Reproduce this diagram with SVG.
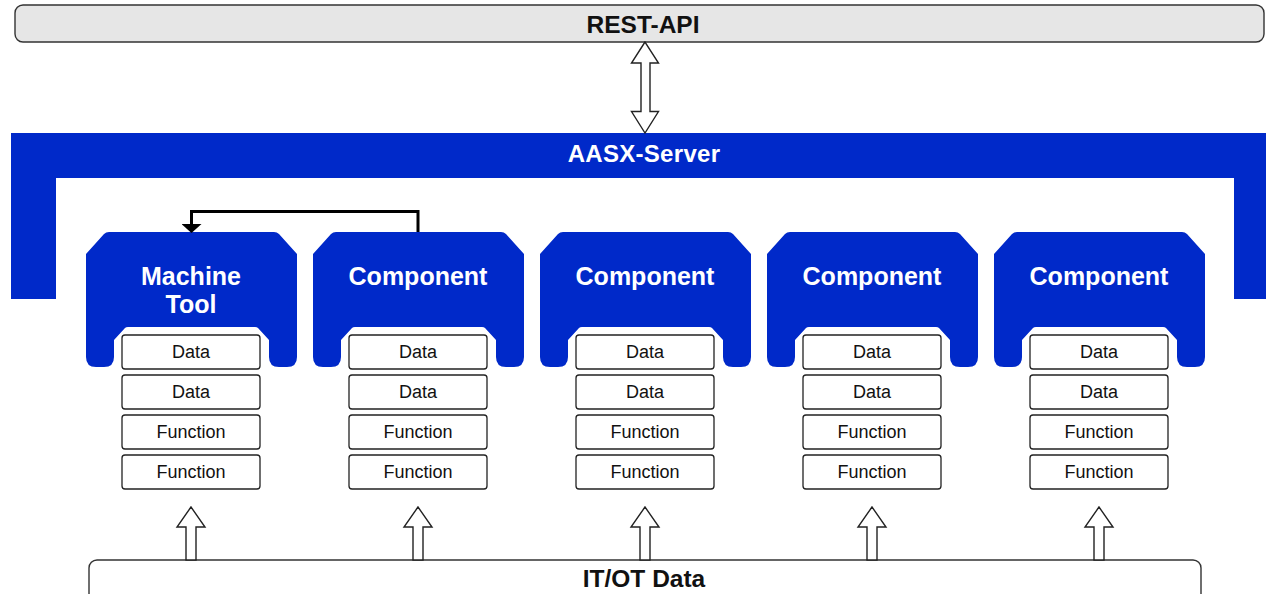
<svg xmlns="http://www.w3.org/2000/svg" xmlns:xlink="http://www.w3.org/1999/xlink" width="1266" height="594" viewBox="0 0 1266 594">
<style>
.bar{fill:#e6e6e6;stroke:#333;stroke-width:1.4}
.bar2{fill:#fff;stroke:#333;stroke-width:1.4}
.blue{fill:#0029c9}
.big{font-family:"Liberation Sans",Arial,sans-serif;font-weight:bold;font-size:24.5px;text-anchor:middle;fill:#111}
.srv{font-family:"Liberation Sans",Arial,sans-serif;font-weight:bold;font-size:24px;letter-spacing:0.3px;text-anchor:middle;fill:#fff}
.lbl{font-family:"Liberation Sans",Arial,sans-serif;font-weight:bold;font-size:25px;text-anchor:middle;fill:#fff}
.box{fill:#fff;stroke:#222;stroke-width:1.3}
.bt{font-family:"Liberation Sans",Arial,sans-serif;font-size:18px;text-anchor:middle;fill:#111}
.harrow{fill:#fff;stroke:#222;stroke-width:1.4;stroke-linejoin:miter}
.fb{fill:none;stroke:#000;stroke-width:3}
</style>
<defs>
<path id="nodeShape" d="M0,22 L18,2 Q20,0 23,0 L188,0 Q191,0 193,2 L211,22 L211,125 Q211,135 201,135 L193,135 Q183,135 183,125 L183,108 L172,96 Q171,95 169,95 L42,95 Q40,95 39,96 L28,108 L28,125 Q28,135 18,135 L10,135 Q0,135 0,125 Z"/>
<g id="boxes">
<rect class="box" x="-69" y="335" width="138" height="34" rx="3"/>
<rect class="box" x="-69" y="375" width="138" height="34" rx="3"/>
<rect class="box" x="-69" y="415" width="138" height="34" rx="3"/>
<rect class="box" x="-69" y="455" width="138" height="34" rx="3"/>
<text class="bt" x="0" y="358">Data</text>
<text class="bt" x="0" y="398">Data</text>
<text class="bt" x="0" y="438">Function</text>
<text class="bt" x="0" y="478">Function</text>
</g>
<marker id="ah" viewBox="0 0 9 20" refX="0" refY="10" markerWidth="9" markerHeight="20" markerUnits="userSpaceOnUse" orient="auto">
<path d="M0,0 L9,10 L0,20 Z" fill="#000"/>
</marker>
</defs>

<g id="rest-api">
<rect class="bar" x="15" y="5" width="1249" height="37" rx="8"/>
<text class="big" x="643" y="33">REST-API</text>
</g>

<g id="aasx-server">
<path class="blue" d="M11,133 H1266 V299 H1234 V178 H56 V299 H11 Z"/>
<text class="srv" x="644" y="162">AASX-Server</text>
</g>

<g id="machine-tool">
<use xlink:href="#nodeShape" href="#nodeShape" class="blue" x="86" y="232"/>
<text class="lbl" x="191" y="285">Machine</text>
<text class="lbl" x="191" y="313">Tool</text>
<use xlink:href="#boxes" href="#boxes" x="191"/>
</g>

<g id="component-1">
<use xlink:href="#nodeShape" href="#nodeShape" class="blue" x="313" y="232"/>
<text class="lbl" x="418" y="285">Component</text>
<use xlink:href="#boxes" href="#boxes" x="418"/>
</g>

<g id="component-2">
<use xlink:href="#nodeShape" href="#nodeShape" class="blue" x="540" y="232"/>
<text class="lbl" x="645" y="285">Component</text>
<use xlink:href="#boxes" href="#boxes" x="645"/>
</g>

<g id="component-3">
<use xlink:href="#nodeShape" href="#nodeShape" class="blue" x="767" y="232"/>
<text class="lbl" x="872" y="285">Component</text>
<use xlink:href="#boxes" href="#boxes" x="872"/>
</g>

<g id="component-4">
<use xlink:href="#nodeShape" href="#nodeShape" class="blue" x="994" y="232"/>
<text class="lbl" x="1099" y="285">Component</text>
<use xlink:href="#boxes" href="#boxes" x="1099"/>
</g>

<g id="itot-data">
<rect class="bar2" x="89" y="560" width="1112" height="50" rx="8"/>
<text class="big" x="644" y="587">IT/OT Data</text>
</g>

<g id="connectors">
<polygon class="harrow" points="645,42 631.5,63 641,63 641,111.5 631.5,111.5 645,133 658.5,111.5 650,111.5 650,63 658.5,63"/>
<path class="fb" d="M418,232 V211.5 H191.5 V224" marker-end="url(#ah)"/>
<polygon class="harrow" points="191,507 177,527 186,527 186,560 196,560 196,527 205,527"/>
<polygon class="harrow" points="418,507 404,527 413,527 413,560 423,560 423,527 432,527"/>
<polygon class="harrow" points="645,507 631,527 640,527 640,560 650,560 650,527 659,527"/>
<polygon class="harrow" points="872,507 858,527 867,527 867,560 877,560 877,527 886,527"/>
<polygon class="harrow" points="1099,507 1085,527 1094,527 1094,560 1104,560 1104,527 1113,527"/>
</g>
</svg>
